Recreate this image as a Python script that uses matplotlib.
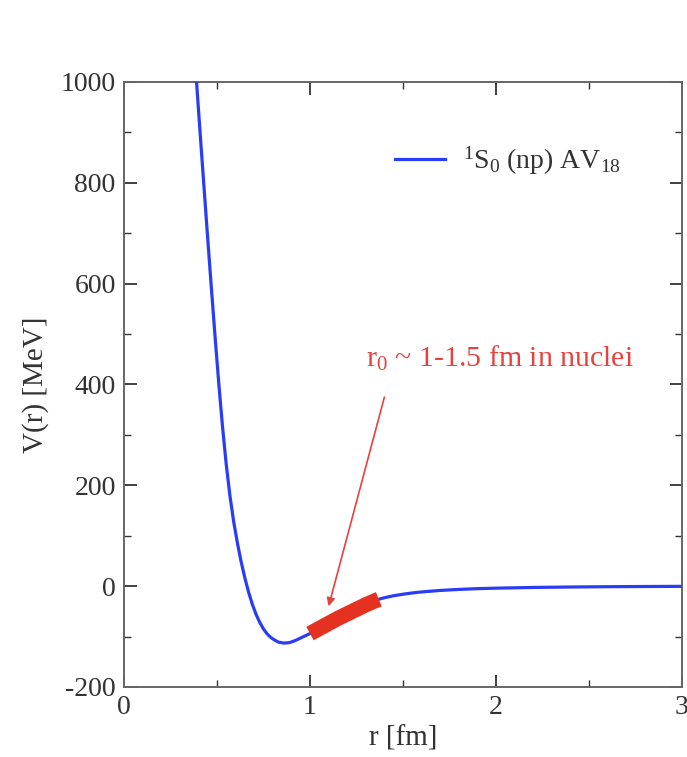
import numpy as np
import matplotlib
matplotlib.use("Agg")
import matplotlib.pyplot as plt
from matplotlib.ticker import MultipleLocator

plt.rcParams['font.family'] = ['Liberation Serif', 'DejaVu Serif']
plt.rcParams['mathtext.fontset'] = 'custom'
plt.rcParams['mathtext.rm'] = 'Liberation Serif'
plt.rcParams['mathtext.it'] = 'Liberation Serif:italic'
plt.rcParams['axes.unicode_minus'] = False

# AV18 1S0 (np) potential
r = [0.39, 0.41, 0.43, 0.45, 0.47, 0.49, 0.51, 0.53, 0.55, 0.57, 0.59, 0.61,
     0.63, 0.65, 0.67, 0.69, 0.71, 0.73, 0.75, 0.77, 0.79, 0.81, 0.83, 0.86,
     0.89, 0.92, 0.96, 1.0, 1.05, 1.1, 1.15, 1.2, 1.25, 1.3, 1.35, 1.37,
     1.4, 1.45, 1.5, 1.55, 1.6, 1.7, 1.8, 1.9, 2.0, 2.2, 2.4, 2.6, 2.8, 3.0]
V = [1000, 895, 792, 690, 590, 493, 400, 315, 240, 178, 127, 85,
     48, 16, -12, -36, -56, -72, -85, -95, -102, -107, -111, -113,
     -112, -108, -101, -94, -84, -74, -64, -55, -46, -37, -29, -26,
     -23, -19, -16, -13.5, -11.5, -8.5, -6.5, -5, -4, -2.6, -1.7, -1.1, -0.7, -0.4]
r0_lo, r0_hi = 1.0, 1.37

r = np.array(r)
V = np.array(V)
band = (r >= r0_lo) & (r <= r0_hi)

fig = plt.figure(figsize=(6.87, 7.57), dpi=100)
ax = fig.add_axes([0.1805, 0.0925, 0.8122, 0.7992])

ax.plot(r, V, color='#2a3cf5', lw=2.3, label=r'$^{1}$S$_{0}$ (np) AV$_{18}$', zorder=3)
ax.plot(r[band], V[band], color='#e5311f', lw=11, solid_capstyle='butt', zorder=4)

ax.annotate('', xy=(1.10, -40), xytext=(1.40, 375),
            arrowprops=dict(arrowstyle='-|>', color='#e8413d', lw=1.2,
                            mutation_scale=12, shrinkA=0, shrinkB=0))
ax.text(2.02, 436, r'r$_{0}$ ~ 1-1.5 fm in nuclei', color='#e8413d',
        fontsize=21.5, ha='center', va='baseline')

ax.set_xlim(0, 3)
ax.set_ylim(-200, 1000)
ax.xaxis.set_major_locator(MultipleLocator(1))
ax.xaxis.set_minor_locator(MultipleLocator(0.5))
ax.yaxis.set_major_locator(MultipleLocator(200))
ax.yaxis.set_minor_locator(MultipleLocator(100))
ax.tick_params(which='both', direction='in', top=True, right=True,
               color='#333333', labelsize=20, labelcolor='#333333')
ax.tick_params(which='major', length=9, width=1.3, pad=6)
ax.tick_params(which='minor', length=5, width=1.0)
for s in ax.spines.values():
    s.set_color('#666666')
    s.set_linewidth(1.4)

ax.set_xlabel('r [fm]', fontsize=21, color='#333333', labelpad=4)
ax.set_ylabel('V(r) [MeV]', fontsize=21, color='#333333', labelpad=8)

leg = ax.legend(loc='upper left', bbox_to_anchor=(0.486, 0.897), frameon=False,
                fontsize=20, handlelength=1.8, handletextpad=0.65,
                borderpad=0, borderaxespad=0)
for t in leg.get_texts():
    t.set_color('#333333')

fig.savefig('out.png', dpi=100)
